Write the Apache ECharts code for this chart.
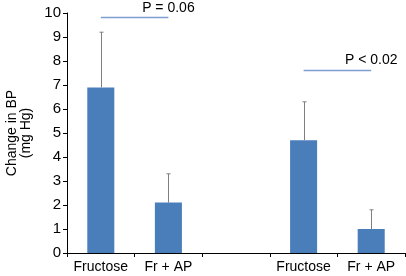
<!DOCTYPE html>
<html><head><meta charset="utf-8">
<script src="https://cdn.jsdelivr.net/npm/echarts@6/dist/echarts.min.js"></script>
<style>html,body{margin:0;padding:0;background:#fff}#c{width:406px;height:276px}</style>
</head><body><div id="c"></div>
<script>
var categories = ['Fructose', 'Fr + AP', '', 'Fructose', 'Fr + AP'];
var values = [6.9, 2.1, null, 4.7, 1.0];
var errorTops = [9.2, 3.3, null, 6.3, 1.8];
var yTicks = [0, 1, 2, 3, 4, 5, 6, 7, 8, 9, 10];
var annotations = [
  {text: 'P = 0.06', from: 0.15, to: 1.22, lineY: 9.83, textY: 10.2},
  {text: 'P < 0.02', from: 3.14, to: 4.07, lineY: 7.62, textY: 8.04}
];

var errData = [];
values.forEach(function (v, i) { if (v != null) errData.push([i, v, errorTops[i]]); });
var annData = annotations.map(function (a) { return [a.from, a.to, a.lineY, a.textY, a.text]; });

var chart = echarts.init(document.getElementById('c'), null, {renderer: 'canvas'});
var font = 'Liberation Sans, Arial, Helvetica, sans-serif';
chart.setOption({
  animation: false,
  grid: {left: 67, right: 1, top: 13, bottom: 23, containLabel: false, outerBoundsMode: 'none'},
  xAxis: {
    type: 'category', data: categories,
    axisLine: {lineStyle: {color: '#000', width: 1}},
    axisTick: {show: true, length: 4, lineStyle: {color: '#000'}},
    axisLabel: {color: '#000', fontSize: 14, fontFamily: font, margin: 7, interval: 0}
  },
  yAxis: {
    type: 'value', min: yTicks[0], max: yTicks[yTicks.length - 1], interval: 1,
    name: 'Change in BP\n(mg Hg)', nameLocation: 'middle', nameGap: 34, nameRotate: 90,
    nameTextStyle: {color: '#000', fontSize: 14, fontFamily: font, lineHeight: 14},
    axisLine: {show: true, lineStyle: {color: '#000', width: 1}},
    axisTick: {show: true, length: 4, lineStyle: {color: '#000'}},
    axisLabel: {color: '#000', fontSize: 15, fontFamily: font, margin: 6},
    splitLine: {show: false}
  },
  series: [
    {
      type: 'bar', data: values, barWidth: '40%',
      itemStyle: {color: '#4a7ebb'}
    },
    {
      type: 'custom', data: errData, z: 3,
      renderItem: function (params, api) {
        var base = api.coord([api.value(0), api.value(1)]);
        var top = api.coord([api.value(0), api.value(2)]);
        var x = Math.round(base[0]) + 0.5;
        return {type: 'group', children: [
          {type: 'line', shape: {x1: x, y1: base[1], x2: x, y2: top[1]}, style: {stroke: '#7f7f7f', lineWidth: 1}},
          {type: 'line', shape: {x1: x - 2, y1: top[1], x2: x + 2, y2: top[1]}, style: {stroke: '#7f7f7f', lineWidth: 1}}
        ]};
      }
    },
    {
      type: 'custom', data: annData, z: 4,
      renderItem: function (params, api) {
        var p1 = api.coord([api.value(0), api.value(2)]);
        var p2 = api.coord([api.value(1), api.value(2)]);
        var t = api.coord([(api.value(0) + api.value(1)) / 2, api.value(3)]);
        var y = Math.round(p1[1]) + 0.5;
        return {type: 'group', children: [
          {type: 'line', shape: {x1: p1[0], y1: y, x2: p2[0], y2: y}, style: {stroke: '#7d9fcf', lineWidth: 1.5}},
          {type: 'text', x: t[0], y: t[1], style: {text: annData[params.dataIndex][4], fill: '#000', font: '14px ' + font, align: 'center', verticalAlign: 'middle'}}
        ]};
      }
    }
  ]
});
</script></body></html>
